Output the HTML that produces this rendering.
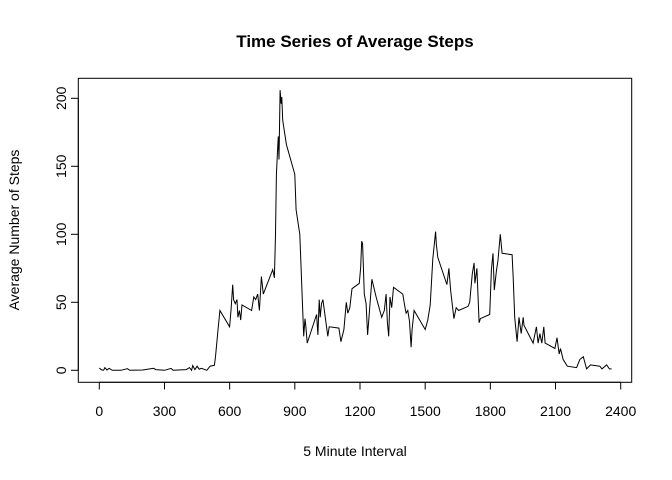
<!DOCTYPE html>
<html><head><meta charset="utf-8"><style>body{margin:0;background:#fff}svg{display:block}text{font-family:"Liberation Sans",sans-serif}</style></head>
<body>
<svg width="672" height="480" xmlns="http://www.w3.org/2000/svg">
<text x="355" y="47" text-anchor="middle" font-size="17" font-weight="bold">Time Series of Average Steps</text>
<rect x="78.3" y="78.3" width="553.4" height="304" fill="none" stroke="#000"/>
<g id="xaxis"></g>
<g id="yaxis"></g>
<polyline id="line" fill="none" stroke="#000" stroke-width="1"/>
<text x="355" y="456" text-anchor="middle" font-size="14">5 Minute Interval</text>
<text transform="translate(19,230) rotate(-90)" text-anchor="middle" font-size="14">Average Number of Steps</text>
</svg>
<script>
const xTicks=[0,300,600,900,1200,1500,1800,2100,2400];
const yTicks=[0,50,100,150,200];
const intervals=[0,10,20,26,35,45,60,100,130,140,200,250,260,300,330,340,400,415,425,430,440,450,460,470,495,510,530,535,546,555,600,606,614,618,626,634,638,645,651,657,701,711,720,729,737,746,755,798,806,811,815,821,824,827,832,837,840,844,849,861,895,900,906,923,934,941,947,951,957,1000,1006,1012,1017,1023,1029,1052,1058,1103,1112,1126,1137,1144,1153,1163,1197,1203,1208,1212,1220,1228,1235,1243,1255,1274,1300,1312,1320,1326,1332,1338,1346,1354,1397,1406,1412,1420,1428,1435,1440,1449,1500,1512,1523,1535,1548,1551,1558,1600,1609,1617,1632,1643,1654,1697,1705,1717,1725,1729,1738,1748,1754,1797,1805,1812,1818,1828,1835,1846,1854,1900,1905,1912,1923,1932,1942,1951,1955,1997,2012,2020,2028,2037,2046,2052,2097,2107,2117,2123,2135,2154,2197,2212,2228,2243,2261,2304,2314,2335,2348,2358];
const steps=[1.7,0.3,0.1,2,0.2,1.5,0,0,1.2,0,0.2,1.5,0.5,0,1.4,0,0.5,2,0,3.5,0.5,3,0.8,1.5,0,3,3.7,10,29,44,32,44,63,52,49,52,39,44,37,48,44,54,52,56,44,69,56,74,68,100,144,164,172,155,206,196,201,184,179,166,147,144,118,100,54,25,38,32,20,41,26,52,39,49,52,25,32,31,21,30,50,42,46,60,64,76,95,93,56,49,26,42,67,54,39,44,56,35,25,54,46,61,56,47,42,44,36,17,30,44,30,37,48,82,102,93,83,63,75,59,38,46,44,47,50,71,79,64,75,35,38,41,74,86,59,73,81,100,86,85,68,39,21,39,27,39,33,20,32,20,27,20,32,20,16,24,12,16,8,3,2,8,10,1,4,3,1,4,1,1];
const X=v=>99.3+v*0.21725, Y=v=>370.3-v*1.36;
const NS="http://www.w3.org/2000/svg";
function mk(t,a,p){const e=document.createElementNS(NS,t);for(const k in a)e.setAttribute(k,a[k]);p.appendChild(e);return e;}
const xa=document.getElementById('xaxis'),ya=document.getElementById('yaxis');
mk('line',{x1:X(0),x2:X(2400),y1:382.3,y2:382.3,stroke:'#000'},xa);
xTicks.forEach(t=>{const l=mk('line',{x1:X(t),x2:X(t),y1:382.3,y2:389.5,stroke:'#000'},xa);


const tx=mk('text',{x:X(t),y:416,'text-anchor':'middle','font-size':'14'},xa);tx.textContent=t;

});
mk('line',{x1:78.3,x2:78.3,y1:Y(0),y2:Y(200),stroke:'#000'},ya);
yTicks.forEach(t=>{const l=mk('line',{x1:71,x2:78.3,y1:Y(t),y2:Y(t),stroke:'#000'},ya);


const tx=mk('text',{transform:`translate(66,${Y(t)}) rotate(-90)`,'text-anchor':'middle','font-size':'14'},ya);tx.textContent=t;

});
document.getElementById('line').setAttribute('points',intervals.map((v,i)=>X(v).toFixed(1)+','+Y(steps[i]).toFixed(1)).join(' '));
</script>
</body></html>
